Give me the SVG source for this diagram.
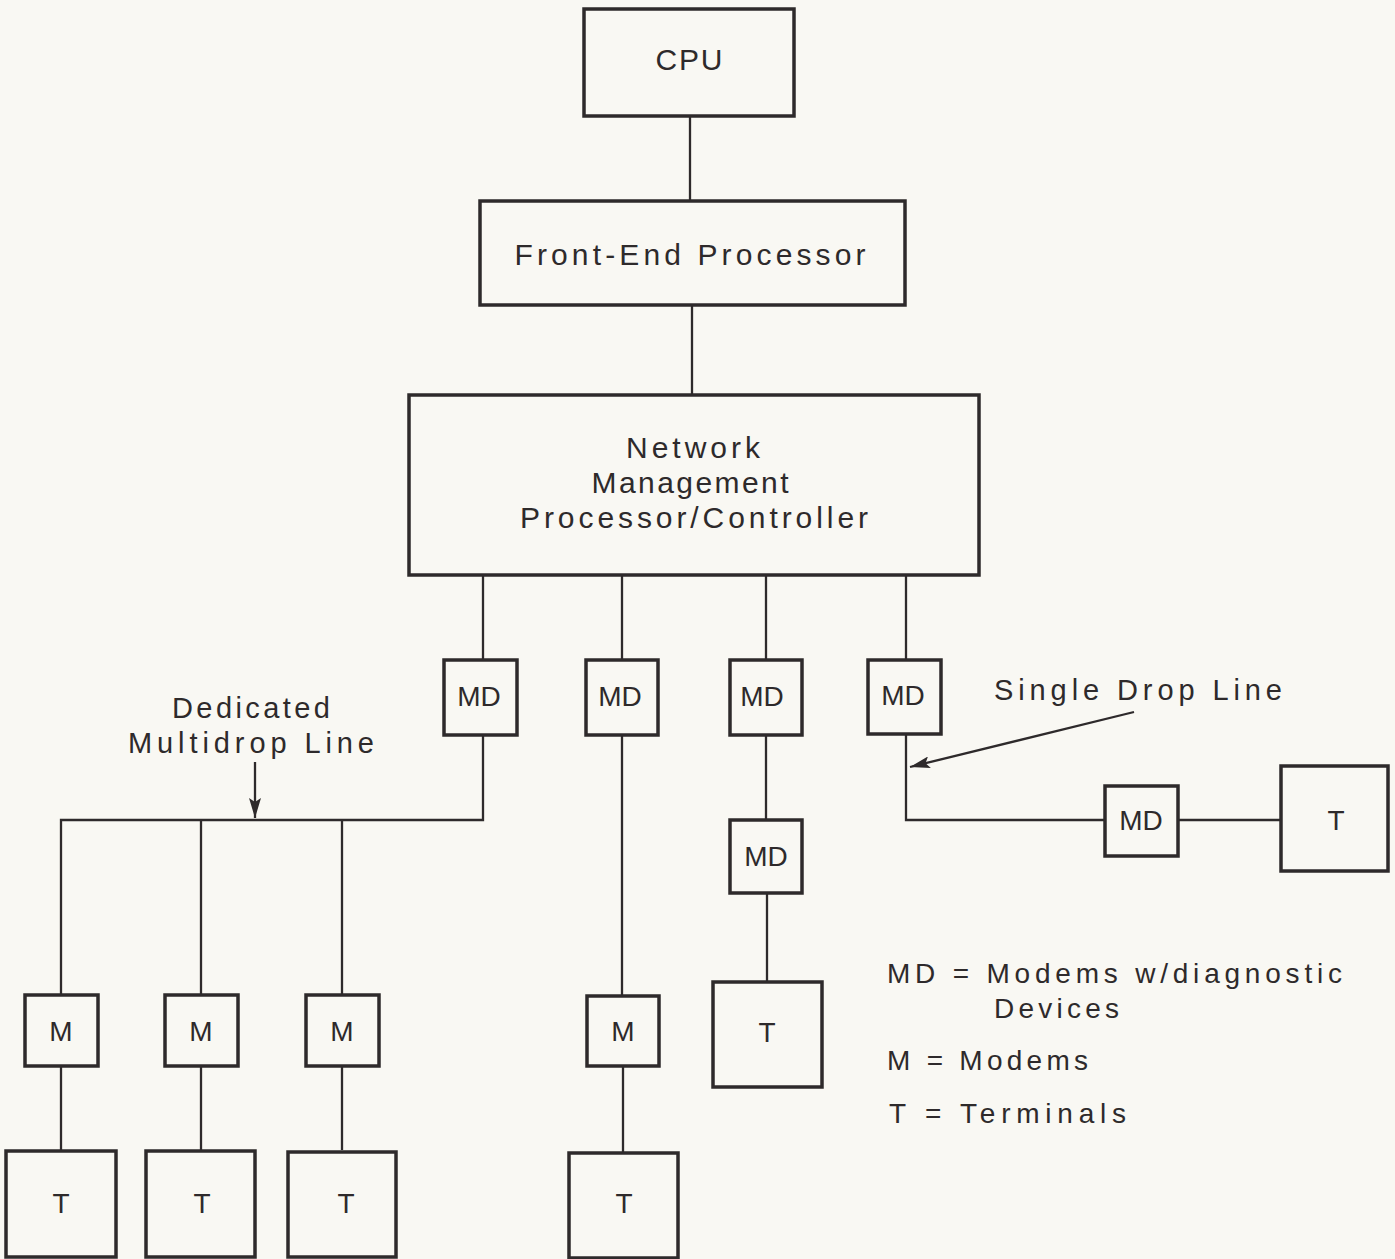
<svg xmlns="http://www.w3.org/2000/svg" width="1395" height="1259" viewBox="0 0 1395 1259">
<style>
.bg{fill:#f9f8f3}
.box{fill:none;stroke:#2e2a2b;stroke-width:3.5}
.ln{fill:none;stroke:#2e2a2b;stroke-width:2.3}
.t{font-family:"Liberation Sans",Arial,sans-serif;fill:#2e2a2b;font-size:30px;text-anchor:middle}
.s{font-size:28px}
.lb{font-size:29px}
.lg{font-family:"Liberation Sans",Arial,sans-serif;fill:#2e2a2b;font-size:28px}
</style>
<defs>
<marker id="ah2" viewBox="0 0 20 12" refX="20" refY="6" markerWidth="20" markerHeight="12" markerUnits="userSpaceOnUse" orient="auto">
<path d="M0,0 L20,6 L0,12 L4,6 z" fill="#2e2a2b"/>
</marker>
</defs>
<rect class="bg" x="0" y="0" width="1395" height="1259"/>

<g id="connectors">
<line class="ln" x1="690" y1="117" x2="690" y2="200"/>
<line class="ln" x1="692" y1="306" x2="692" y2="394"/>
<line class="ln" x1="483" y1="575" x2="483" y2="660"/>
<line class="ln" x1="622" y1="575" x2="622" y2="660"/>
<line class="ln" x1="766" y1="575" x2="766" y2="660"/>
<line class="ln" x1="906" y1="575" x2="906" y2="660"/>
<polyline class="ln" points="483,735 483,820 61,820 61,995"/>
<line class="ln" x1="201" y1="820" x2="201" y2="995"/>
<line class="ln" x1="342" y1="820" x2="342" y2="995"/>
<line class="ln" x1="61" y1="1066" x2="61" y2="1150"/>
<line class="ln" x1="201" y1="1066" x2="201" y2="1150"/>
<line class="ln" x1="342" y1="1066" x2="342" y2="1150"/>
<line class="ln" x1="622" y1="735" x2="622" y2="995"/>
<line class="ln" x1="623" y1="1066" x2="623" y2="1152"/>
<line class="ln" x1="766" y1="735" x2="766" y2="820"/>
<line class="ln" x1="767" y1="893" x2="767" y2="981"/>
<polyline class="ln" points="906,735 906,820 1105,820"/>
<line class="ln" x1="1178" y1="820" x2="1281" y2="820"/>
<line class="ln" x1="255" y1="762" x2="255" y2="818" marker-end="url(#ah2)"/>
<line class="ln" x1="1134" y1="712" x2="910" y2="767" marker-end="url(#ah2)"/>
</g>

<g id="cpu"><rect class="box" x="584" y="9" width="210" height="107"/><text class="t" x="689" y="70" textLength="67" lengthAdjust="spacing">CPU</text></g>
<g id="fep"><rect class="box" x="480" y="201" width="425" height="104"/><text class="t" x="690" y="265" textLength="351" lengthAdjust="spacing">Front-End  Processor</text></g>
<g id="nmp"><rect class="box" x="409" y="395" width="570" height="180"/>
<text class="t" x="693" y="458" textLength="134" lengthAdjust="spacing">Network</text>
<text class="t" x="690" y="493" textLength="197" lengthAdjust="spacing">Management</text>
<text class="t" x="694" y="528" textLength="348" lengthAdjust="spacing">Processor/Controller</text></g>

<g id="md1"><rect class="box" x="444" y="660" width="73" height="75"/><text class="t s" x="479" y="706">MD</text></g>
<g id="md2"><rect class="box" x="586" y="660" width="72" height="75"/><text class="t s" x="620" y="706">MD</text></g>
<g id="md3"><rect class="box" x="730" y="660" width="72" height="75"/><text class="t s" x="762" y="706">MD</text></g>
<g id="md4"><rect class="box" x="868" y="660" width="73" height="74"/><text class="t s" x="903" y="705">MD</text></g>
<g id="md5"><rect class="box" x="1105" y="786" width="73" height="70"/><text class="t s" x="1141" y="830">MD</text></g>
<g id="md6"><rect class="box" x="730" y="820" width="72" height="73"/><text class="t s" x="766" y="866">MD</text></g>

<g id="m1"><rect class="box" x="25" y="995" width="73" height="71"/><text class="t s" x="61" y="1041">M</text></g>
<g id="m2"><rect class="box" x="165" y="995" width="73" height="71"/><text class="t s" x="201" y="1041">M</text></g>
<g id="m3"><rect class="box" x="306" y="995" width="73" height="71"/><text class="t s" x="342" y="1041">M</text></g>
<g id="m4"><rect class="box" x="587" y="996" width="72" height="70"/><text class="t s" x="623" y="1041">M</text></g>

<g id="t1"><rect class="box" x="6" y="1151" width="110" height="106"/><text class="t s" x="61" y="1213">T</text></g>
<g id="t2"><rect class="box" x="146" y="1151" width="109" height="106"/><text class="t s" x="202" y="1213">T</text></g>
<g id="t3"><rect class="box" x="288" y="1152" width="108" height="105"/><text class="t s" x="346" y="1213">T</text></g>
<g id="t4"><rect class="box" x="569" y="1153" width="109" height="105"/><text class="t s" x="624" y="1213">T</text></g>
<g id="t5"><rect class="box" x="713" y="982" width="109" height="105"/><text class="t s" x="767" y="1042">T</text></g>
<g id="t6"><rect class="box" x="1281" y="766" width="107" height="105"/><text class="t s" x="1336" y="830">T</text></g>

<g id="labels">
<text class="t lb" x="251" y="718" textLength="158" lengthAdjust="spacing">Dedicated</text>
<text class="t lb" x="251" y="753" textLength="246" lengthAdjust="spacing">Multidrop  Line</text>
<text class="t lb" x="1138" y="700" textLength="288" lengthAdjust="spacing">Single  Drop  Line</text>
<text class="lg" x="887" y="983" textLength="455" lengthAdjust="spacing">MD = Modems  w/diagnostic</text>
<text class="lg" x="994" y="1018" textLength="125" lengthAdjust="spacing">Devices</text>
<text class="lg" x="887" y="1070" textLength="201" lengthAdjust="spacing">M = Modems</text>
<text class="lg" x="889" y="1123" textLength="237" lengthAdjust="spacing">T = Terminals</text>
</g>
</svg>
